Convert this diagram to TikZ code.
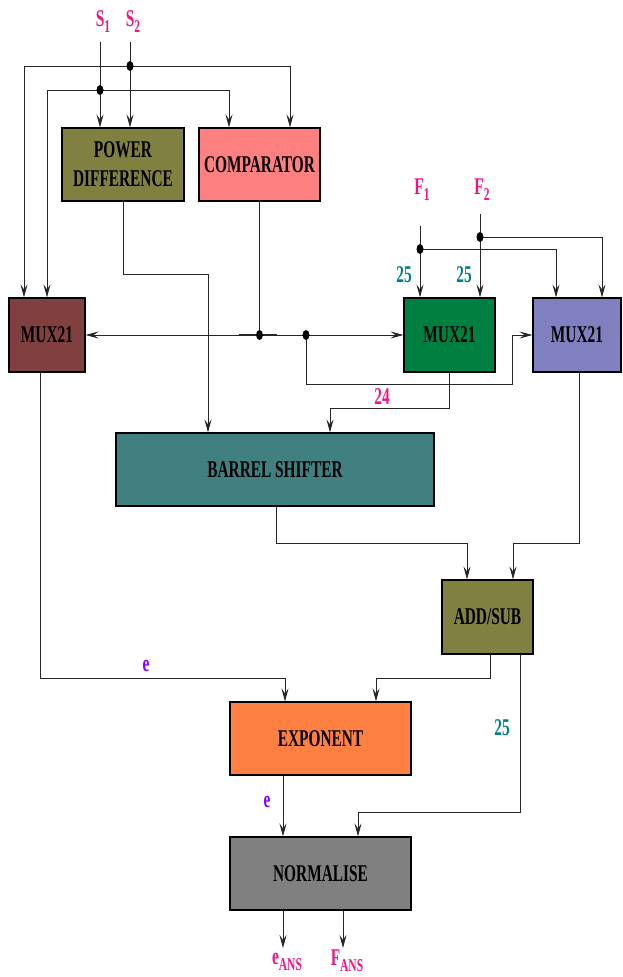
\documentclass[tikz,border=0pt]{standalone}
\usepackage{fontspec}
\setmainfont{Liberation Serif}[FakeStretch=0.64]
\usetikzlibrary{arrows.meta}
\definecolor{cPD}{RGB}{128,128,64}
\definecolor{cCMP}{RGB}{255,128,128}
\definecolor{cML}{RGB}{128,64,64}
\definecolor{cMG}{RGB}{0,128,64}
\definecolor{cMP}{RGB}{128,128,192}
\definecolor{cBS}{RGB}{64,128,128}
\definecolor{cEX}{RGB}{255,128,64}
\definecolor{cNO}{RGB}{128,128,128}
\definecolor{cMag}{RGB}{240,20,130}
\definecolor{cTeal}{RGB}{0,128,128}
\definecolor{cPur}{RGB}{128,0,255}
\begin{document}
\begin{tikzpicture}[x=1pt,y=-1pt,
  box/.style={draw=black, line width=1.2pt, inner sep=0pt, align=center,
    font=\bfseries\fontsize{24}{29}\selectfont},
  wire/.style={line width=0.8pt, draw=black!85},
  arr/.style={wire, -{Stealth[length=13pt,width=7pt,inset=5pt]}},
  lab/.style={inner sep=0pt, font=\bfseries\fontsize{24}{24}\selectfont},
  dotf/.style={fill=black}]
\useasboundingbox (0,0) rectangle (622,977);
\newcommand{\lsub}[1]{\raisebox{-6pt}{\fontsize{18}{18}\selectfont #1}}

% boxes
\node[box, fill=cPD, minimum width=122pt, minimum height=73pt] (pd) at (123,164.5) {POWER\\DIFFERENCE};
\node[box, fill=cCMP, minimum width=121pt, minimum height=73pt] (cmp) at (259.5,164.5) {COMPARATOR};
\node[box, fill=cML, minimum width=76pt, minimum height=74pt] (muxL) at (47,335) {MUX21};
\node[box, fill=cMG, minimum width=91pt, minimum height=74pt] (muxG) at (449.5,335) {MUX21};
\node[box, fill=cMP, minimum width=88pt, minimum height=74pt] (muxP) at (577,335) {MUX21};
\node[box, fill=cBS, minimum width=318pt, minimum height=73pt] (bs) at (275,469.5) {BARREL SHIFTER};
\node[box, fill=cPD, minimum width=91pt, minimum height=74pt] (as) at (487.5,617) {ADD/SUB};
\node[box, fill=cEX, minimum width=181pt, minimum height=73pt] (ex) at (320.5,738.5) {EXPONENT};
\node[box, fill=cNO, minimum width=181pt, minimum height=73pt] (no) at (320.5,873.5) {NORMALISE};

% inputs
\coordinate (s1) at (100,42);
\coordinate (s2) at (130,42);
\coordinate (d1) at (100,90);
\coordinate (d2) at (130,66);
\node[lab, text=cMag] (s1l) at (103,22) {S\lsub{1}};
\node[lab, text=cMag] (s2l) at (133,22) {S\lsub{2}};
\draw[arr] (s1) -- (s1 |- pd.north);
\draw[arr] (s2) -- (s2 |- pd.north);
\draw[arr] (d2) -| ([xshift=-23pt]muxL.north);
\draw[arr] (d2) -| ([xshift=30.5pt]cmp.north);
\draw[arr] (d1) -| (muxL.north);
\draw[arr] (d1) -| ([xshift=-30.5pt]cmp.north);
\fill[dotf] (d1) ellipse [x radius=3.5pt, y radius=5pt];
\fill[dotf] (d2) ellipse [x radius=3.5pt, y radius=5pt];

% power difference to barrel shifter
\draw[arr] (pd.south) -- ++(0,73) -| ([xshift=-67pt]bs.north);

% comparator select line
\coordinate (dc) at (cmp.south |- muxL.east);
\coordinate (d3) at (306,335);
\draw[wire] (cmp.south) -- (dc);
\draw[arr] (dc) -- (muxL.east);
\draw[arr] (dc) -- (muxG.west);
\draw[wire, line width=1.4pt] ([xshift=-21pt]dc) -- ([xshift=17pt]dc);
\draw[arr] (d3) -- ++(0,49) -- ++(206,0) |- (muxP.west);
\fill[dotf] (dc) ellipse [x radius=3.5pt, y radius=5pt];
\fill[dotf] (d3) ellipse [x radius=3.5pt, y radius=5pt];

% F inputs
\coordinate (f1) at (420,226);
\coordinate (f2) at (480,214);
\coordinate (df1) at (420,249);
\coordinate (df2) at (480,237);
\node[lab, text=cMag] (f1l) at (422,190) {F\lsub{1}};
\node[lab, text=cMag] (f2l) at (482,190) {F\lsub{2}};
\draw[arr] (f1) -- (f1 |- muxG.north);
\draw[arr] (f2) -- (f2 |- muxG.north);
\draw[arr] (df1) -| ([xshift=-21pt]muxP.north);
\draw[arr] (df2) -| ([xshift=25pt]muxP.north);
\fill[dotf] (df1) ellipse [x radius=3.5pt, y radius=5pt];
\fill[dotf] (df2) ellipse [x radius=3.5pt, y radius=5pt];
\node[lab, text=cTeal] (n25a) at (404,275) {25};
\node[lab, text=cTeal] (n25b) at (464,275) {25};

% mux green to barrel shifter
\draw[arr] (muxG.south) -- ++(0,36) -| ([xshift=55pt]bs.north);
\node[lab, text=cMag] (n24) at (382,397) {24};

% to add/sub
\draw[arr] ([xshift=2pt]muxP.south) -- ++(0,171) -| ([xshift=25.5pt]as.north);
\draw[arr] ([xshift=1pt]bs.south) -- ++(0,37) -| ([xshift=-20.5pt]as.north);

% to exponent
\draw[arr] ([xshift=-7pt]muxL.south) -- ++(0,306) -| ([xshift=-35.5pt]ex.north);
\node[lab, text=cPur] (e1) at (146,666) {e};
\draw[arr] ([xshift=2.5pt]as.south) -- ++(0,24) -| ([xshift=55.5pt]ex.north);

% to normalise
\draw[arr] ([xshift=32.5pt]as.south) -- ++(0,158) -| ([xshift=37.5pt]no.north);
\node[lab, text=cTeal] (n25c) at (502,728) {25};
\draw[arr] ([xshift=-37.5pt]ex.south) -- ([xshift=-37.5pt]no.north);
\node[lab, text=cPur] (e2) at (267,802) {e};

% outputs
\coordinate (eo) at (283,948);
\coordinate (fo) at (343,948);
\draw[arr] ([xshift=-37.5pt]no.south) -- (eo);
\draw[arr] ([xshift=22.5pt]no.south) -- (fo);
\node[lab, text=cMag] (eans) at (287,962) {e\lsub{ANS}};
\node[lab, text=cMag] (fans) at (347,961) {F\lsub{ANS}};
\end{tikzpicture}
\end{document}
